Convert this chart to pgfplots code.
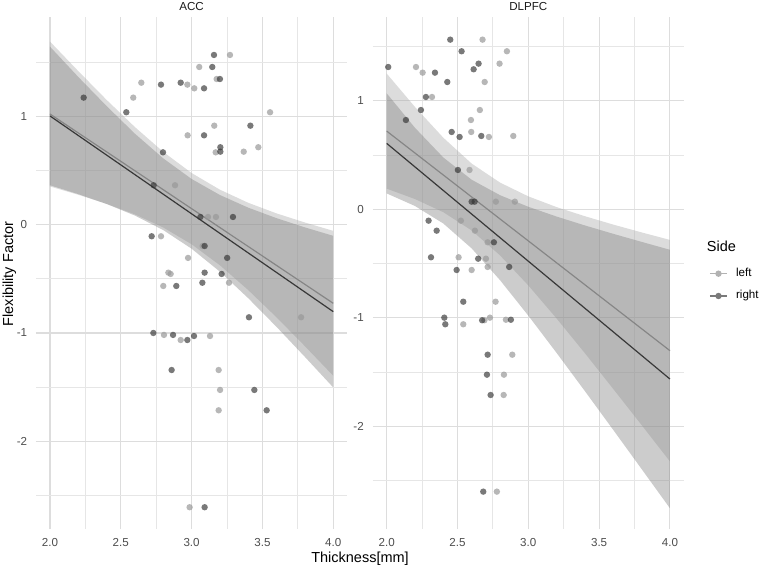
\documentclass[border=0pt]{standalone}
\usepackage{fontspec}
\setmainfont{Liberation Sans}
\usepackage{pgfplots}
\pgfplotsset{compat=1.18}
\usepackage{pgfplotstable}

\definecolor{lightside}{HTML}{999999}
\definecolor{darkside}{HTML}{333333}
\definecolor{lightline}{HTML}{8A8A8A}
\definecolor{darkline}{HTML}{383838}
\definecolor{lightfill}{HTML}{A8A8A8}
\definecolor{darkfill}{HTML}{808080}
\definecolor{gridmaj}{HTML}{DDDDDD}
\definecolor{gridmin}{HTML}{E6E6E6}
\definecolor{ticktext}{HTML}{4D4D4D}
\definecolor{striptext}{HTML}{1A1A1A}

\newcommand\ticksize{\fontsize{11.6}{13}\selectfont}
\newcommand\titlesize{\fontsize{14.5}{16}\selectfont}

% ---------- ACC: thickness vs flexibility factor ----------
\pgfplotstableread{
x y
3.271 1.567
3.054 1.456
3.177 1.345
2.645 1.311
2.970 1.293
3.019 1.259
2.588 1.173
3.554 1.038
3.160 0.914
2.972 0.825
3.471 0.715
3.170 0.668
3.368 0.674
2.883 0.364
3.116 0.071
3.172 0.071
2.784 -0.107
3.078 -0.197
2.975 -0.307
2.836 -0.443
2.852 -0.455
2.800 -0.566
3.264 -0.536
3.773 -0.855
2.805 -1.018
2.923 -1.065
3.130 -1.028
3.191 -1.342
3.201 -1.526
3.191 -1.714
2.986 -2.609
}\accLeft

\pgfplotstableread{
x y
3.158 1.567
3.146 1.456
3.200 1.345
2.923 1.311
2.784 1.293
3.088 1.259
2.238 1.173
2.539 1.038
3.415 0.914
3.088 0.825
3.203 0.715
3.203 0.674
2.798 0.668
2.732 0.364
3.062 0.071
3.292 0.071
2.718 -0.107
3.092 -0.197
3.251 -0.307
3.092 -0.443
3.212 -0.455
2.892 -0.566
3.076 -0.536
3.405 -0.855
2.730 -1.000
2.869 -1.018
2.970 -1.065
3.017 -1.028
2.859 -1.342
3.443 -1.526
3.530 -1.714
3.092 -2.609
}\accRight

% confidence bands: upper edge left to right, then lower edge back
\pgfplotstableread{
x y
2.0 1.691
2.2 1.418
2.4 1.152
2.6 0.901
2.8 0.672
3.0 0.477
3.2 0.323
3.4 0.202
3.6 0.104
3.8 0.020
4.0 -0.057
4.0 -1.395
3.8 -1.122
3.6 -0.856
3.4 -0.604
3.2 -0.375
3.0 -0.181
2.8 -0.026
2.6 0.095
2.4 0.192
2.2 0.276
2.0 0.353
}\accLeftBand

\pgfplotstableread{
x y
2.0 1.644
2.2 1.364
2.4 1.095
2.6 0.840
2.8 0.612
3.0 0.422
3.2 0.274
3.4 0.157
3.6 0.060
3.8 -0.025
4.0 -0.103
4.0 -1.503
3.8 -1.221
3.6 -0.944
3.4 -0.679
3.2 -0.434
3.0 -0.222
2.8 -0.050
2.6 0.084
2.4 0.191
2.2 0.282
2.0 0.364
}\accRightBand

% ---------- DLPFC ----------
\pgfplotstableread{
x y
2.677 1.562
2.849 1.455
2.797 1.341
2.207 1.310
2.254 1.258
2.692 1.172
2.320 1.034
2.658 0.914
2.595 0.822
2.597 0.712
2.722 0.666
2.894 0.675
2.585 0.362
2.771 0.070
2.905 0.070
2.524 -0.105
2.623 -0.197
2.713 -0.304
2.508 -0.442
2.701 -0.455
2.600 -0.559
2.713 -0.531
2.769 -0.851
2.541 -1.059
2.729 -0.998
2.842 -1.017
2.690 -1.022
2.887 -1.339
2.828 -1.523
2.826 -1.710
2.778 -2.600
}\dlpfcLeft

\pgfplotstableread{
x y
2.449 1.562
2.529 1.455
2.649 1.341
2.011 1.310
2.341 1.258
2.614 1.289
2.428 1.172
2.277 1.034
2.242 0.914
2.136 0.822
2.459 0.712
2.515 0.666
2.668 0.675
2.503 0.362
2.600 0.070
2.621 0.070
2.296 -0.105
2.353 -0.197
2.757 -0.304
2.313 -0.442
2.646 -0.455
2.494 -0.559
2.865 -0.531
2.541 -0.851
2.407 -0.998
2.414 -1.059
2.674 -1.022
2.877 -1.017
2.713 -1.339
2.708 -1.523
2.734 -1.710
2.682 -2.600
}\dlpfcRight

\pgfplotstableread{
x y
2.0 1.250
2.2 0.942
2.4 0.659
2.6 0.421
2.8 0.246
3.0 0.119
3.2 0.020
3.4 -0.064
3.6 -0.141
3.8 -0.213
4.0 -0.282
4.0 -2.322
3.8 -1.987
3.6 -1.655
3.4 -1.326
3.2 -1.006
3.0 -0.701
2.8 -0.424
2.6 -0.195
2.4 -0.027
2.2 0.094
2.0 0.190
}\dlpfcLeftBand

\pgfplotstableread{
x y
2.0 1.068
2.2 0.750
2.4 0.477
2.6 0.272
2.8 0.130
3.0 0.023
3.2 -0.067
3.4 -0.149
3.6 -0.226
3.8 -0.300
4.0 -0.373
4.0 -2.753
3.8 -2.392
3.6 -2.032
3.4 -1.675
3.2 -1.323
3.0 -0.979
2.8 -0.652
2.6 -0.360
2.4 -0.131
2.2 0.030
2.0 0.146
}\dlpfcRightBand

\pgfplotsset{
  panel/.style={
    scale only axis, width=311.6pt, height=511.5pt,
    xmin=1.9, xmax=4.1,
    xtick={2,2.5,3,3.5,4}, xticklabels={2.0,2.5,3.0,3.5,4.0},
    minor xtick={2.25,2.75,3.25,3.75},
    ytick={-2,-1,0,1}, yticklabels={-2,-1,0,1},
    minor ytick={-2.5,-1.5,-0.5,0.5,1.5},
    grid=both,
    major grid style={draw=gridmaj, line width=1.1pt},
    minor grid style={draw=gridmin, line width=0.8pt},
    axis line style={draw=none},
    major tick length=0pt, minor tick length=0pt,
    tick style={draw=none},
    xticklabel style={font=\ticksize, text=ticktext, anchor=north, inner sep=0pt, yshift=-9pt},
    yticklabel style={font=\ticksize, text=ticktext, anchor=east, inner sep=0pt, xshift=-8.5pt},
  },
  lightpts/.style={only marks, mark=*, mark size=3.2pt,
    mark options={draw opacity=0, fill=lightside, fill opacity=0.7}},
  darkpts/.style={only marks, mark=*, mark size=3.2pt,
    mark options={draw opacity=0, fill=darkside, fill opacity=0.66}},
  lightband/.style={draw=none, fill=lightfill, fill opacity=0.4},
  darkband/.style={draw=none, fill=darkfill, fill opacity=0.4},
  lightfit/.style={draw=lightline, line width=1.2pt, no marks},
  darkfit/.style={draw=darkline, line width=1.2pt, no marks},
}

\begin{document}
\begin{tikzpicture}
\path[use as bounding box] (0pt,0pt) rectangle (762pt,567pt);

% ACC panel
\begin{axis}[panel, at={(35.8pt,38pt)}, anchor=south west,
  ymin=-2.810, ymax=1.913]
  \addplot[lightpts] table {\accLeft};
  \addplot[darkpts] table {\accRight};
  \addplot[lightband] table {\accLeftBand};
  \addplot[lightfit] coordinates {(2,1.022) (4,-0.726)};
  \addplot[darkband] table {\accRightBand};
  \addplot[darkfit] coordinates {(2,1.004) (4,-0.803)};
\end{axis}

% DLPFC panel
\begin{axis}[panel, at={(372.5pt,38pt)}, anchor=south west,
  ymin=-2.944, ymax=1.766,
  legend style={at={(axis description cs:1.0805,0.5099)}, anchor=north west,
    draw=none, fill=none, inner sep=0pt, outer sep=0pt, row sep=11.3pt,
    font=\ticksize,
    nodes={inner sep=0pt, text height=8.5pt, text depth=2.5pt},
    /tikz/every odd column/.append style={column sep=8.3pt}},
  legend cell align=left,
  legend image code/.code={\draw[mark repeat=2, mark phase=2, #1]
    plot coordinates {(0pt,0pt) (8.7pt,0pt) (17.4pt,0pt)};}]
  \addplot[lightpts, forget plot] table {\dlpfcLeft};
  \addplot[darkpts, forget plot] table {\dlpfcRight};
  \addplot[lightband, forget plot] table {\dlpfcLeftBand};
  \addplot[lightfit, forget plot] coordinates {(2,0.720) (4,-1.302)};
  \addplot[darkband, forget plot] table {\dlpfcRightBand};
  \addplot[darkfit, forget plot] coordinates {(2,0.607) (4,-1.563)};
  \addlegendimage{draw=lightside!75!white, line width=1.2pt, mark=*, mark size=3.2pt,
    mark options={draw opacity=0, fill=lightside!75!white}}
  \addlegendentry{left}
  \addlegendimage{draw=darkside!65!white, line width=1.2pt, mark=*, mark size=3.2pt,
    mark options={draw opacity=0, fill=darkside!65!white}}
  \addlegendentry{right}
\end{axis}

% facet strips, axis titles, legend title
\node[anchor=base, font=\ticksize, text=striptext, inner sep=0pt] at (191.6pt,556.5pt) {ACC};
\node[anchor=base, font=\ticksize, text=striptext, inner sep=0pt] at (528.3pt,556.5pt) {DLPFC};
\node[anchor=base, font=\titlesize, inner sep=0pt] at (360pt,4.5pt) {Thickness[mm]};
\node[rotate=90, anchor=base, font=\titlesize, inner sep=0pt] at (13pt,293pt) {Flexibility Factor};
\node[anchor=base west, font=\titlesize, inner sep=0pt] at (706.7pt,315.3pt) {Side};
\end{tikzpicture}
\end{document}
